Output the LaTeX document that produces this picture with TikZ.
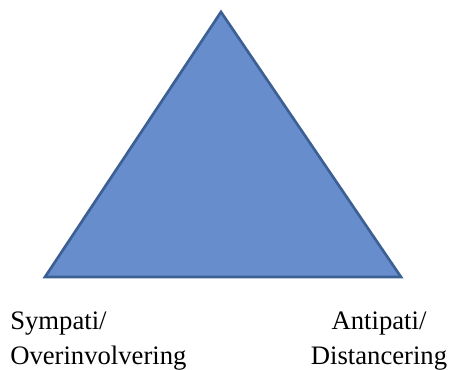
\documentclass[tikz,border=0pt]{standalone}
\usepackage{fontspec}
\setmainfont{Liberation Serif}
\definecolor{trifill}{RGB}{104,141,205}
\definecolor{triline}{RGB}{60,95,148}
\tikzset{
  pole/.style={inner sep=0pt, font=\fontsize{20}{26.25}\selectfont},
}
\begin{document}
\begin{tikzpicture}[x=0.75pt,y=-0.75pt]
\useasboundingbox (0,0) rectangle (451,370);
% triangle
\coordinate (top) at (221,12);
\coordinate (left) at (45,277);
\coordinate (right) at (401,277);
\draw[fill=trifill, draw=triline, line width=2pt, line join=miter] (top) -- (right) -- (left) -- cycle;
% labels
\node[pole, align=left, anchor=north west] (sympati) at (10,311.5) {Sympati/\\Overinvolvering};
\node[pole, align=center, anchor=north] (antipati) at (379,311.5) {Antipati/\\Distancering};
\end{tikzpicture}
\end{document}
